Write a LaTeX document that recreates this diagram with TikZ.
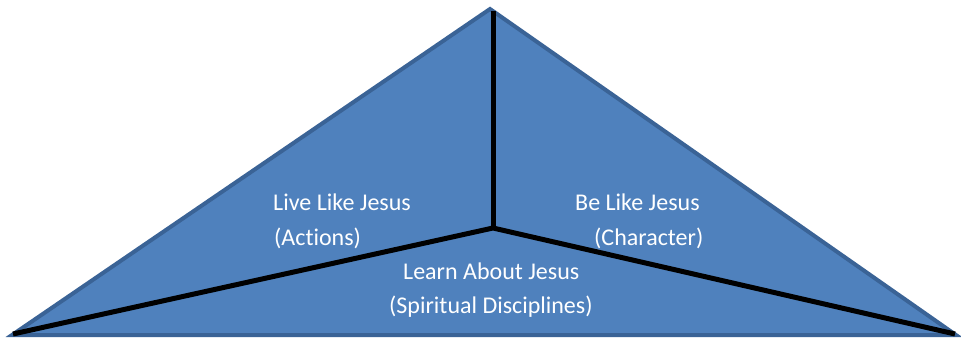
\documentclass[tikz,border=0pt]{standalone}
\usepackage{fontspec}
\setmainfont{Carlito}[Ligatures={NoCommon}]
\begin{document}
\begin{tikzpicture}[x=1pt,y=-1pt,
  tri/.style={fill=triblue,draw=triedge,line width=4pt,line join=miter},
  divider/.style={draw=black,line width=5pt,line cap=butt},
  lbl/.style={text=white,font=\fontsize{24}{34}\selectfont,inner sep=0pt,anchor=base west}]
\definecolor{triblue}{HTML}{4F81BD}
\definecolor{triedge}{HTML}{3A6396}
\useasboundingbox (0,0) rectangle (961,339);
\coordinate (apex) at (490,9);
\coordinate (bl) at (12,335);
\coordinate (br) at (956,335);
\coordinate (mid) at (493,228);
\coordinate (top) at (493,11);
\coordinate (lend) at (13,334);
\coordinate (rend) at (955,334);
\path[tri] (apex) -- (br) -- (bl) -- cycle;
\draw[divider] (top) -- (mid);
\draw[divider,line join=round] (lend) -- (mid) -- (rend);
\node[lbl] (live) at (273,211) {Live Like Jesus};
\node[lbl] (act) at (274,245) {(Actions)};
\node[lbl] (be) at (575,211) {Be Like Jesus};
\node[lbl] (char) at (594,245) {(Character)};
\node[lbl] (learn) at (403,279) {Learn About Jesus};
\node[lbl] (spir) at (389,313) {(Spiritual Disciplines)};
\end{tikzpicture}
\end{document}
